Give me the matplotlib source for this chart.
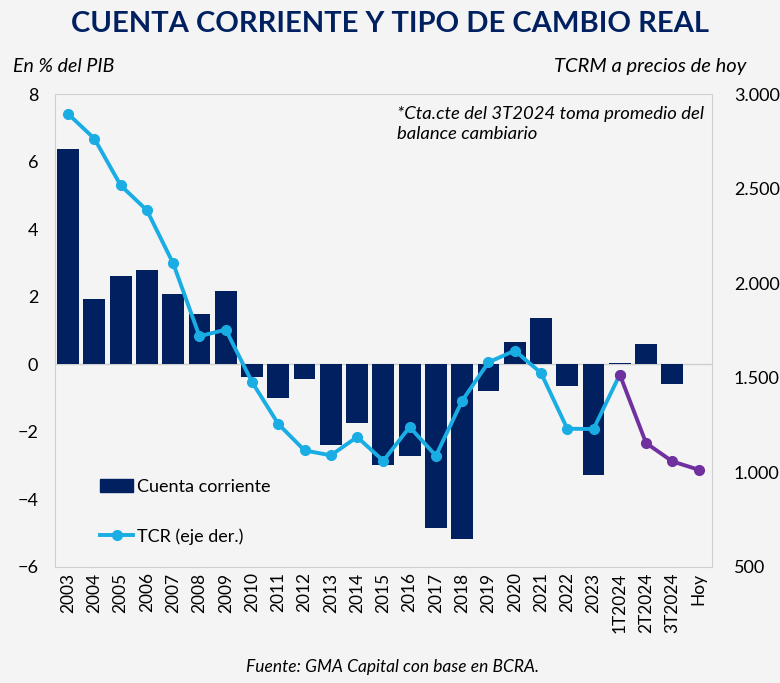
import numpy as np
import matplotlib.pyplot as plt
from matplotlib.lines import Line2D
from matplotlib.patches import Patch

# datos
categorias = [str(a) for a in range(2003, 2024)] + ['1T2024', '2T2024', '3T2024', 'Hoy']
cuenta_corriente = [6.37, 1.95, 2.63, 2.78, 2.09, 1.48, 2.16, -0.39, -1.00, -0.42,
                    -2.39, -1.74, -2.98, -2.71, -4.85, -5.17, -0.78, 0.67, 1.36, -0.65,
                    -3.29, 0.03, 0.61, -0.57, np.nan]
tcr = [2896, 2765, 2518, 2386, 2105, 1720, 1755, 1478, 1256, 1116,
       1090, 1187, 1061, 1240, 1088, 1379, 1582, 1644, 1526, 1231,
       1229, 1517, 1155, 1058, 1014]

AZUL = '#002060'
CELESTE = '#1aade4'
VIOLETA = '#7030a0'
FONDO = '#f4f4f4'
plt.rcParams['font.family'] = ['Lato', 'DejaVu Sans']

fig = plt.figure(figsize=(7.8, 6.83), dpi=100, facecolor=FONDO)
ax1 = fig.add_axes([0.0705, 0.170, 0.842, 0.692])
ax1.set_facecolor(FONDO)
x = np.arange(len(categorias))

ax1.bar(x, cuenta_corriente, width=0.83, color=AZUL, zorder=2)
ax1.axhline(0, color='#d0d0d0', lw=1, zorder=1)
ax1.set_ylim(-6, 8)
ax1.set_yticks(range(-6, 9, 2))
ax1.set_xlim(-0.5, len(categorias) - 0.5)
ax1.set_xticks(x)
ax1.set_xticklabels(categorias, rotation=90, fontsize=12.5)
ax1.tick_params(axis='y', labelsize=13, length=0, pad=12)
ax1.tick_params(axis='x', length=0, pad=4)
for s in ax1.spines.values():
    s.set_color('#d0d0d0')

ax2 = ax1.twinx()
ax2.set_ylim(500, 3000)
ax2.set_yticks(range(500, 3001, 500))
ax2.set_yticklabels([f'{v:,}'.replace(',', '.') for v in range(500, 3001, 500)])
ax2.tick_params(axis='y', labelsize=13, length=0, pad=16)
for s in ax2.spines.values():
    s.set_visible(False)

k = categorias.index('1T2024')
ax2.plot(x[:k + 1], tcr[:k + 1], color=CELESTE, lw=2.8, marker='o', ms=7, zorder=3)
ax2.plot(x[k:], tcr[k:], color=VIOLETA, lw=2.8, marker='o', ms=7, zorder=4)

ax2.text(0.52, 0.975, '*Cta.cte del 3T2024 toma promedio del\nbalance cambiario',
         transform=ax1.transAxes, ha='left', va='top', style='italic',
         fontsize=13.3, linespacing=1.3)

handles = [Patch(color=AZUL), Line2D([], [], color=CELESTE, lw=2.8, marker='o', ms=7)]
ax2.legend(handles, ['Cuenta corriente', 'TCR (eje der.)'], loc='lower left',
           bbox_to_anchor=(0.069, 0.047), frameon=False, fontsize=13,
           labelspacing=1.85, handlelength=1.8, handletextpad=0.25,
           borderpad=0, borderaxespad=0)

fig.text(0.5, 0.965, 'CUENTA CORRIENTE Y TIPO DE CAMBIO REAL', ha='center', va='center',
         fontsize=21, fontweight='bold', color=AZUL)
fig.text(0.017, 0.903, 'En % del PIB', ha='left', va='center', style='italic', fontsize=14)
fig.text(0.957, 0.903, 'TCRM a precios de hoy', ha='right', va='center', style='italic', fontsize=14.5)
fig.text(0.503, 0.023, 'Fuente: GMA Capital con base en BCRA.', ha='center', va='center',
         style='italic', fontsize=12.5)

fig.savefig('out.png', dpi=100, facecolor=FONDO)
